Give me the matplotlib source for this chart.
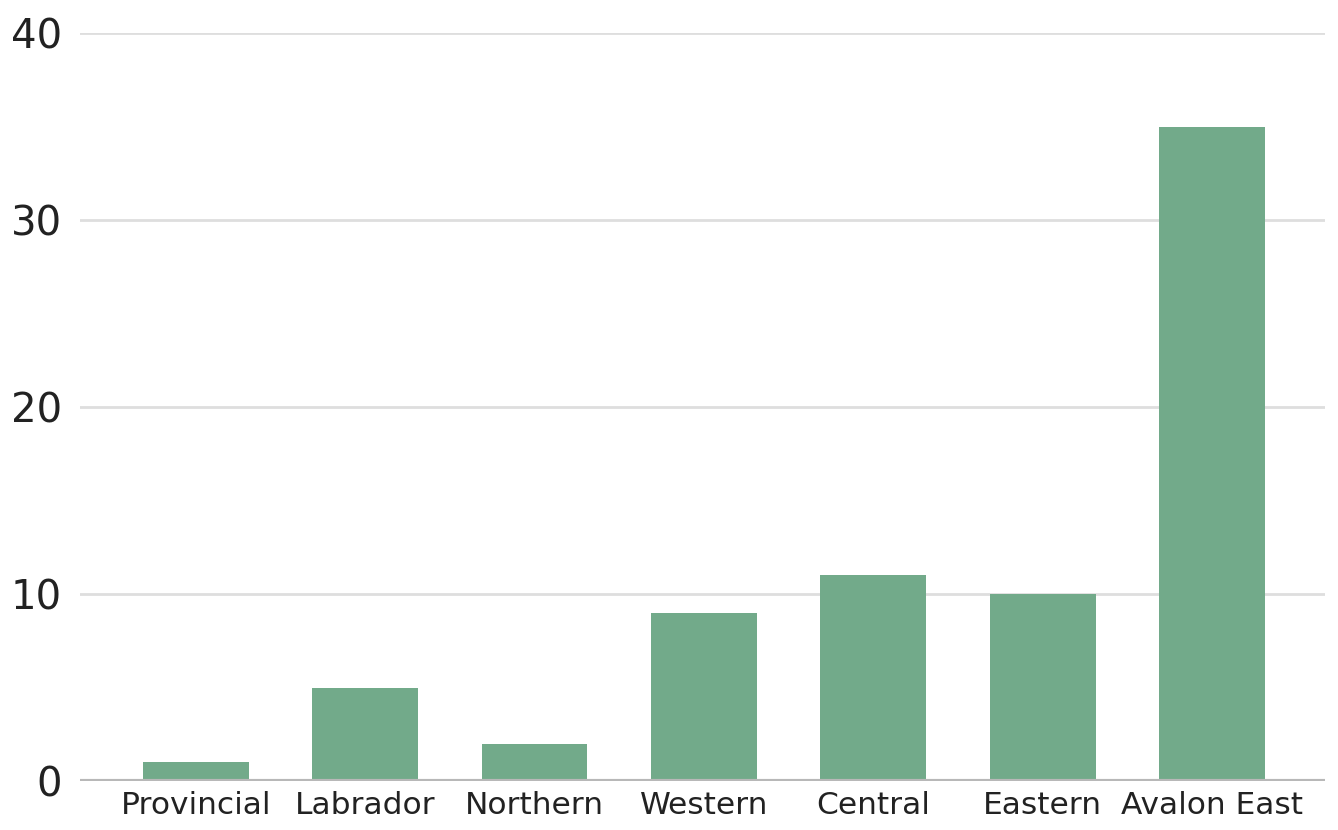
import matplotlib
matplotlib.use('Agg')
import matplotlib.pyplot as plt

regions = ['Provincial', 'Labrador', 'Northern', 'Western', 'Central', 'Eastern', 'Avalon East']
counts = [1, 5, 2, 9, 11, 10, 35]
y_ticks = [0, 10, 20, 30, 40]

bar_color = '#72aa8a'

fig = plt.figure(figsize=(13.38, 8.3), dpi=100)
ax = fig.add_axes([0.0598, 0.059, 0.9302, 0.901])

x = list(range(len(regions)))
ax.bar(x, counts, width=0.625, color=bar_color, zorder=3)

ax.set_ylim(0, 40)
ax.set_xlim(-0.683, 6.665)
ax.set_yticks(y_ticks)
ax.set_xticks(x)
ax.set_xticklabels(regions)

ax.grid(axis='y', color='#dedede', linewidth=2, zorder=0)
ax.axhline(0, color='#b8b8b8', linewidth=3, zorder=4)

for s in ax.spines.values():
    s.set_visible(False)

ax.tick_params(axis='y', length=0, pad=13, labelsize=29, labelcolor='#222222')
ax.tick_params(axis='x', length=0, pad=7, labelsize=22.5, labelcolor='#222222')

fig.savefig('out.png', dpi=100)
plt.close(fig)
